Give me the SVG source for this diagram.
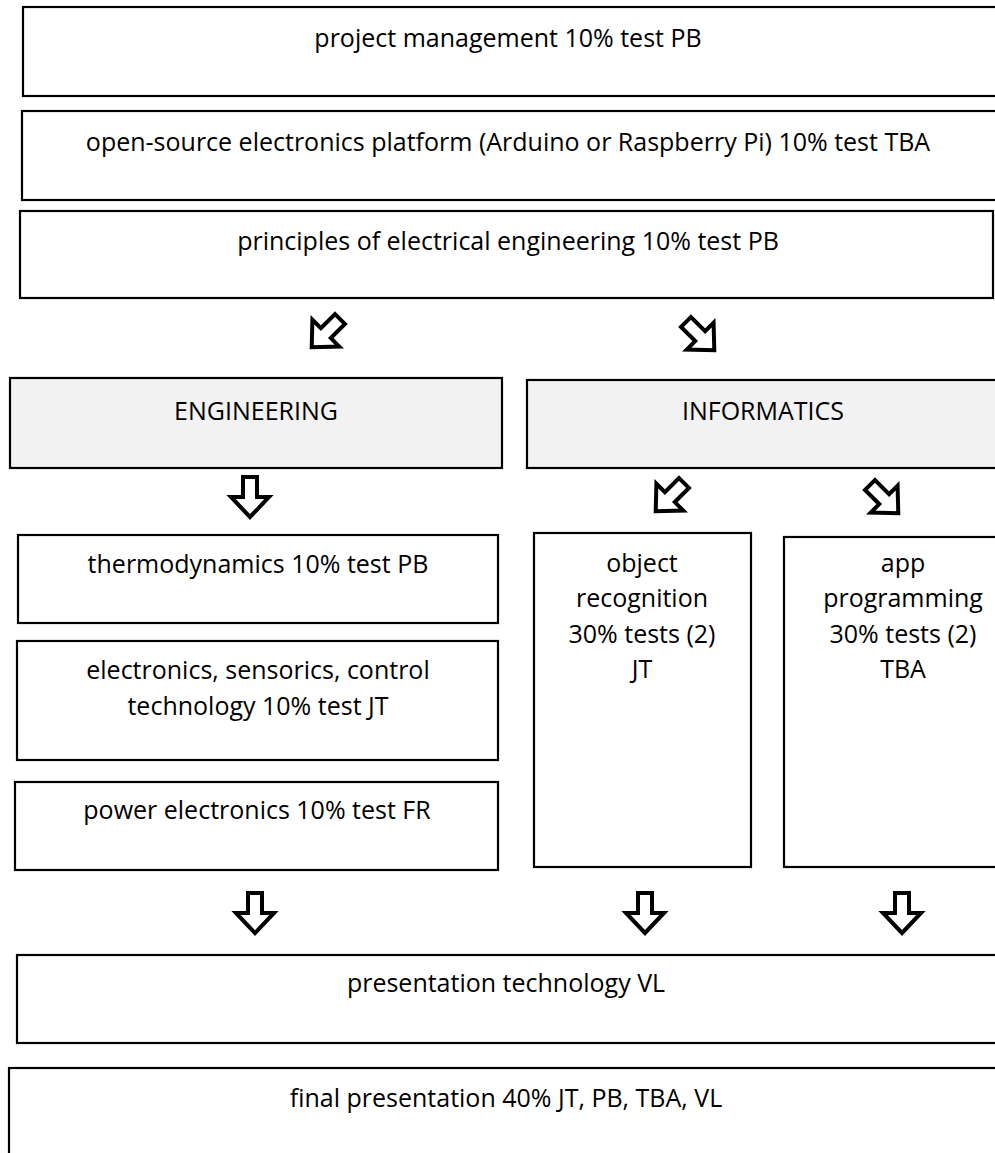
<svg xmlns="http://www.w3.org/2000/svg" width="995" height="1153" viewBox="0 0 995 1153">
<style>
.box{fill:#fff;stroke:#000;stroke-width:2.2}
.grey{fill:#f2f2f2;stroke:#000;stroke-width:2.2}
.t{font-family:"Open Sans","Liberation Sans",sans-serif;font-size:25px;fill:#000;text-anchor:middle}
.arr{fill:#fff;stroke:#000;stroke-width:4;stroke-linejoin:miter}
</style>
<defs>
<path id="a" class="arr" d="M-7,-41 L7,-41 L7,-21 L19,-21 L0,-1 L-19,-21 L-7,-21 Z"/>
</defs>
<rect width="995" height="1153" fill="#fff"/>
<g id="n1"><rect class="box" x="23" y="7" width="990" height="89"/><text class="t" x="508" y="47">project management 10% test PB</text></g>
<g id="n2"><rect class="box" x="22" y="111" width="990" height="89"/><text class="t" x="508" y="151">open-source electronics platform (Arduino or Raspberry Pi) 10% test TBA</text></g>
<g id="n3"><rect class="box" x="20" y="211" width="973" height="87"/><text class="t" x="508" y="250">principles of electrical engineering 10% test PB</text></g>
<g id="n4"><rect class="grey" x="10" y="378" width="492" height="90"/><text class="t" x="256" y="420">ENGINEERING</text></g>
<g id="n5"><rect class="grey" x="527" y="380" width="490" height="88"/><text class="t" x="763" y="420">INFORMATICS</text></g>
<g id="n6"><rect class="box" x="18" y="535" width="480" height="88"/><text class="t" x="258" y="573">thermodynamics 10% test PB</text></g>
<g id="n7"><rect class="box" x="17" y="641" width="481" height="119"/><text class="t" x="258" y="679">electronics, sensorics, control</text><text class="t" x="258" y="715">technology 10% test JT</text></g>
<g id="n8"><rect class="box" x="15" y="782" width="483" height="88"/><text class="t" x="257" y="819">power electronics 10% test FR</text></g>
<g id="n9"><rect class="box" x="534" y="533" width="217" height="334"/><text class="t" x="642" y="572">object</text><text class="t" x="642" y="607">recognition</text><text class="t" x="642" y="643">30% tests (2)</text><text class="t" x="642" y="678">JT</text></g>
<g id="n10"><rect class="box" x="784" y="537" width="240" height="330"/><text class="t" x="903" y="572">app</text><text class="t" x="903" y="607">programming</text><text class="t" x="903" y="643">30% tests (2)</text><text class="t" x="903" y="678">TBA</text></g>
<g id="n11"><rect class="box" x="17" y="955" width="990" height="88"/><text class="t" x="506" y="992">presentation technology VL</text></g>
<g id="n12"><rect class="box" x="9" y="1068" width="1000" height="100"/><text class="t" x="506" y="1107">final presentation 40% JT, PB, TBA, VL</text></g>
<g id="connectors">
<use href="#a" transform="translate(311,348) rotate(45)"/>
<use href="#a" transform="translate(715,351) rotate(-45)"/>
<use href="#a" transform="translate(250,518)"/>
<use href="#a" transform="translate(655,512) rotate(45)"/>
<use href="#a" transform="translate(899,514) rotate(-45)"/>
<use href="#a" transform="translate(255,934)"/>
<use href="#a" transform="translate(645,934)"/>
<use href="#a" transform="translate(902,934)"/>
</g>
</svg>
